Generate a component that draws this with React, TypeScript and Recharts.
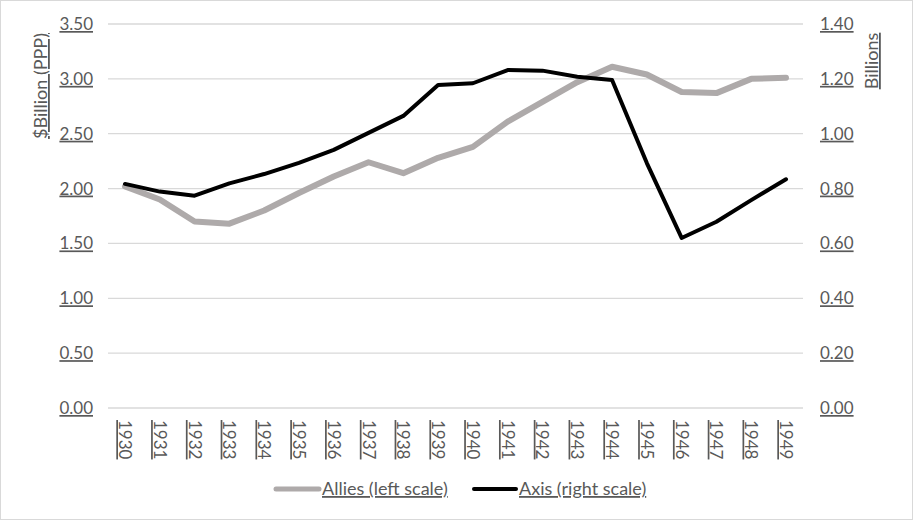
import React from 'react';
import { LineChart, Line, XAxis, YAxis, CartesianGrid, Legend, Label } from 'recharts';

const years = ['1930', '1931', '1932', '1933', '1934', '1935', '1936', '1937', '1938', '1939', '1940', '1941', '1942', '1943', '1944', '1945', '1946', '1947', '1948', '1949'];
const allies = [2.02, 1.9, 1.7, 1.68, 1.8, 1.96, 2.11, 2.24, 2.14, 2.28, 2.38, 2.61, 2.79, 2.97, 3.11, 3.04, 2.88, 2.87, 3.0, 3.01];
const axisPowers = [0.817, 0.789, 0.774, 0.819, 0.853, 0.894, 0.941, 1.003, 1.065, 1.178, 1.184, 1.232, 1.23, 1.208, 1.196, 0.893, 0.62, 0.679, 0.758, 0.834];
const leftTicks = [0, 0.5, 1.0, 1.5, 2.0, 2.5, 3.0, 3.5];
const rightTicks = [0, 0.2, 0.4, 0.6, 0.8, 1.0, 1.2, 1.4];
const seriesNames = ['Allies (left scale)', 'Axis (right scale)'];
const seriesColors = ['#AEAAAA', '#000000'];

const data = years.map((y, i) => ({ year: y, allies: allies[i], axis: axisPowers[i] }));

const FONT = "Lato, 'Open Sans', sans-serif";
const TXT = '#595959';

const LeftTick = (props: any) => {
  const { x, y, payload } = props;
  return (
    <text x={x} y={y} dy={6} textAnchor="end" fontFamily={FONT} fontSize={17} fill={TXT} textDecoration="underline">
      {Number(payload.value).toFixed(2)}
    </text>
  );
};

const RightTick = (props: any) => {
  const { x, y, payload } = props;
  return (
    <text x={x} y={y} dy={6} textAnchor="start" fontFamily={FONT} fontSize={17} fill={TXT} textDecoration="underline">
      {Number(payload.value).toFixed(2)}
    </text>
  );
};

const XTick = (props: any) => {
  const { x, y, payload } = props;
  return (
    <text transform={`translate(${x},${y + 4}) rotate(90)`} dy={6} textAnchor="start" fontFamily={FONT} fontSize={17} fill={TXT} textDecoration="underline">
      {payload.value}
    </text>
  );
};

const legendPos = [
  { x1: 276, x2: 319, tx: 322, w: 5 },
  { x1: 474, x2: 516, tx: 519, w: 4 },
];

const renderLegend = (props: any) => {
  const payload = props.payload || [];
  return (
    <svg width={913} height={34} style={{ display: 'block' }}>
      {payload.map((p: any, i: number) => {
        const pos = legendPos[i] || legendPos[0];
        return (
          <g key={i}>
            <line x1={pos.x1} x2={pos.x2} y1={15} y2={15} stroke={p.color} strokeWidth={pos.w} strokeLinecap="round" />
            <text x={pos.tx} y={21} fontFamily={FONT} fontSize={18} fill={TXT} textDecoration="underline">
              {p.value}
            </text>
          </g>
        );
      })}
    </svg>
  );
};

export default function App() {
  return (
    <div style={{ position: 'absolute', left: 0, top: 0, width: 913, height: 520, background: '#fff' }}>
      <LineChart width={913} height={520} data={data} margin={{ top: 24, right: 10, bottom: 8, left: 8 }}>
        <CartesianGrid yAxisId="left" horizontal={true} vertical={false} stroke="#D9D9D9" strokeWidth={1.3} />
        <XAxis dataKey="year" height={104} axisLine={false} tickLine={false} tick={<XTick />} interval={0} tickMargin={2} padding={{ left: 17, right: 17 }} />
        <YAxis yAxisId="left" orientation="left" width={100} domain={[0, 3.5]} ticks={leftTicks} axisLine={false} tickLine={false} tickMargin={9} tick={<LeftTick />} interval={0}>
          <Label
            content={() => (
              <text transform="translate(41,86) rotate(-90)" dy={6} textAnchor="middle" fontFamily={FONT} fontSize={18} fill={TXT} textDecoration="underline">
                $Billion (PPP)
              </text>
            )}
          />
        </YAxis>
        <YAxis yAxisId="right" orientation="right" width={100} domain={[0, 1.4]} ticks={rightTicks} axisLine={false} tickLine={false} tickMargin={11} tick={<RightTick />} interval={0}>
          <Label
            content={() => (
              <text transform="translate(872,61) rotate(-90)" dy={6} textAnchor="middle" fontFamily={FONT} fontSize={18} fill={TXT} textDecoration="underline">
                Billions
              </text>
            )}
          />
        </YAxis>
        <Legend
          verticalAlign="middle"
          align="center"
          layout="horizontal"
          content={renderLegend}
          wrapperStyle={{ top: 474, left: 0, width: 913, height: 34 }}
        />
        <Line yAxisId="left" type="linear" dataKey="allies" name={seriesNames[0]} stroke={seriesColors[0]} strokeWidth={6} dot={false} strokeLinecap="round" strokeLinejoin="round" isAnimationActive={false} />
        <Line yAxisId="right" type="linear" dataKey="axis" name={seriesNames[1]} stroke={seriesColors[1]} strokeWidth={4} dot={false} strokeLinecap="round" strokeLinejoin="round" isAnimationActive={false} />
      </LineChart>
      <div style={{ position: 'absolute', left: 0, top: 0, width: 913, height: 520, boxSizing: 'border-box', border: '1px solid #D9D9D9', pointerEvents: 'none' }} />
    </div>
  );
}
